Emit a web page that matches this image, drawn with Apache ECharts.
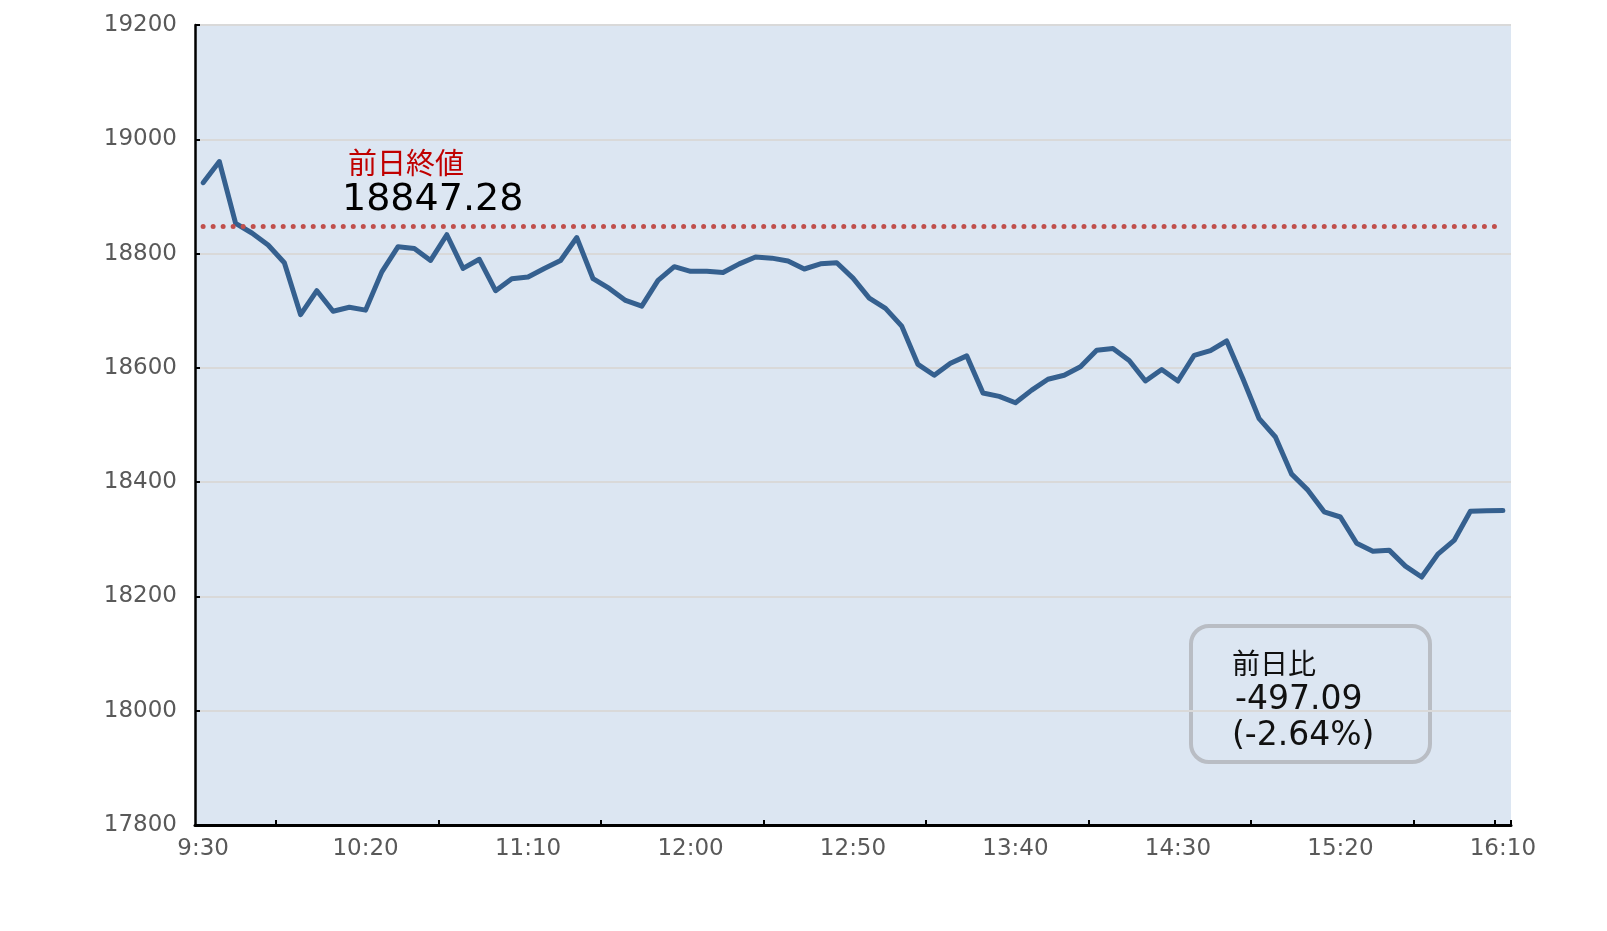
<!DOCTYPE html>
<html>
<head>
<meta charset="utf-8">
<script src="https://cdn.jsdelivr.net/npm/echarts@6/dist/echarts.min.js"></script>
<style>
html,body{margin:0;padding:0;background:#fff;}
#main{width:1607px;height:931px;}
</style>
</head>
<body>
<div id="main"></div>
<script>
// Time categories (5-minute steps)
const times = [
 '9:30','9:35','9:40','9:45','9:50','9:55','10:00','10:05','10:10','10:15',
 '10:20','10:25','10:30','10:35','10:40','10:45','10:50','10:55','11:00','11:05',
 '11:10','11:15','11:20','11:25','11:30','11:35','11:40','11:45','11:50','11:55',
 '12:00','12:05','12:10','12:15','12:20','12:25','12:30','12:35','12:40','12:45',
 '12:50','12:55','13:00','13:05','13:10','13:15','13:20','13:25','13:30','13:35',
 '13:40','13:45','13:50','13:55','14:00','14:05','14:10','14:15','14:20','14:25',
 '14:30','14:35','14:40','14:45','14:50','14:55','15:00','15:05','15:10','15:15',
 '15:20','15:25','15:30','15:35','15:40','15:45','15:50','15:55','16:00','16:05',
 '16:10'
];
// Index values
const prices = [
 18924,18961,18853,18836,18815,18784,18693,18735,18699,18706,
 18701,18768,18812,18809,18788,18833,18774,18790,18735,18756,
 18759,18774,18788,18828,18756,18739,18718,18708,18753,18777,
 18769,18769,18767,18782,18794,18792,18787,18773,18782,18784,
 18757,18722,18704,18673,18606,18587,18608,18621,18556,18550,
 18539,18561,18580,18587,18602,18631,18634,18613,18577,18597,
 18577,18622,18630,18647,18581,18511,18479,18414,18386,18348,
 18339,18293,18279,18281,18253,18234,18274,18298,18349,18350,
 18350.19
];
const prevClose = 18847.28;
const yTicks = { min: 17800, max: 19200, step: 200 };
const prevCloseTitle = '前日終値';
const prevCloseText = '18847.28';
const changeTitle = '前日比';
const changeValue = '-497.09';
const changePct = '(-2.64%)';

const chart = echarts.init(document.getElementById('main'), null, {renderer:'canvas'});
const numFont = '"DejaVu Sans", sans-serif';
const jpFont = '"Noto Sans CJK JP", sans-serif';

chart.setOption({
  animation: false,
  grid: {
    left: 195, right: 96, top: 25, bottom: 106,
    show: true, backgroundColor: '#dce6f2', borderWidth: 0
  },
  xAxis: {
    type: 'category',
    data: times,
    boundaryGap: true,
    axisLine: { show: true, lineStyle: { color: '#000', width: 3 } },
    axisTick: {
      show: true, inside: true, length: 5,
      lineStyle: { color: '#000', width: 2 },
      interval: function (idx) { return idx % 10 === 5 || idx === 80; }
    },
    axisLabel: {
      interval: function (idx) { return idx % 10 === 0; },
      color: '#595959', fontSize: 23, fontFamily: numFont, margin: 13
    },
    splitLine: { show: false }
  },
  yAxis: {
    type: 'value',
    min: yTicks.min, max: yTicks.max, interval: yTicks.step,
    axisLine: { show: true, lineStyle: { color: '#000', width: 2.5 } },
    axisTick: { show: true, inside: true, length: 5, lineStyle: { color: '#000', width: 2 } },
    axisLabel: {
      color: '#595959', fontSize: 23, fontFamily: numFont, margin: 18,
      formatter: function (v) { return String(v); }
    },
    splitLine: { show: true, lineStyle: { color: '#d9d9d9', width: 2 } }
  },
  series: [{
    type: 'line',
    data: prices,
    symbol: 'none',
    lineStyle: { color: '#35608f', width: 5, join: 'round', cap: 'round' },
    z: 3,
    markLine: {
      silent: true,
      symbol: ['none', 'none'],
      label: { show: false },
      lineStyle: { color: '#c0504d', width: 5, type: [0.01, 10], cap: 'round' },
      emphasis: { disabled: true },
      data: [[ { coord: [0, prevClose] }, { coord: [times.length - 1, prevClose] } ]]
    }
  }],
  graphic: [
    { type: 'text', left: 348, top: 148, style: { text: prevCloseTitle, fill: '#c00000', font: '29px ' + jpFont } },
    { type: 'text', left: 342, top: 181, style: { text: prevCloseText, fill: '#000', font: '38px ' + numFont } },
    { type: 'rect', shape: { x: 1191, y: 626, width: 239, height: 136, r: 18 },
      style: { fill: 'none', stroke: '#b9bdc4', lineWidth: 4 } },
    { type: 'text', left: 1232, top: 649, style: { text: changeTitle, fill: '#111', font: '28px ' + jpFont } },
    { type: 'text', left: 1235, top: 684, style: { text: changeValue, fill: '#111', font: '33px ' + numFont } },
    { type: 'text', left: 1232, top: 720, style: { text: changePct, fill: '#111', font: '33px ' + numFont } }
  ]
});
</script>
</body>
</html>
